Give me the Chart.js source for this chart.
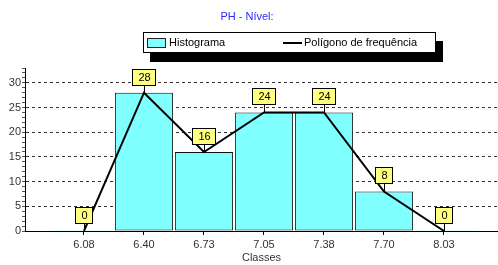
<!DOCTYPE html>
<html>
<head>
<meta charset="utf-8">
<script src="https://cdn.jsdelivr.net/npm/chart.js@4.4.0/dist/chart.umd.min.js"></script>
<style>
    body { margin: 0; background: #fff; }
    canvas { display: block; }
</style>
</head>
<body>
<canvas id="chart" width="498" height="265"></canvas>
<script>
// Chart data
const chartTitle = 'PH - Nível:';
const axisTitle = 'Classes';
const classLabels = ['6.08', '6.40', '6.73', '7.05', '7.38', '7.70', '8.03'];
const frequencies = [0, 28, 16, 24, 24, 8, 0];
const yTickLabels = [0, 5, 10, 15, 20, 25, 30];

const FONT = '"Liberation Sans", Arial, sans-serif';
const CYAN = '#80ffff';

// Title, legend box with shadow and yellow value labels
const decorPlugin = {
    id: 'decor',
    afterDatasetsDraw(chart) {
        const ctx = chart.ctx;
        const meta = chart.getDatasetMeta(1);
        ctx.save();
        ctx.font = '11px ' + FONT;
        ctx.textAlign = 'center';
        ctx.textBaseline = 'middle';
        meta.data.forEach((pt, i) => {
            const text = String(frequencies[i]);
            const w = Math.round(ctx.measureText(text).width) + 11;
            const h = 16;
            const x = Math.round(pt.x - w / 2) + 0.5;
            const bottom = Math.round(pt.y) - 8;
            // connector
            ctx.strokeStyle = '#000';
            ctx.lineWidth = 1;
            ctx.beginPath();
            ctx.moveTo(Math.round(pt.x) + 0.5, bottom);
            ctx.lineTo(Math.round(pt.x) + 0.5, pt.y);
            ctx.stroke();
            ctx.fillStyle = '#ffff80';
            ctx.fillRect(x, bottom - h + 0.5, w, h);
            ctx.strokeRect(x, bottom - h + 0.5, w, h);
            ctx.fillStyle = '#000';
            ctx.fillText(text, Math.round(pt.x) + 0.5, bottom - h / 2 + 1);
        });
        ctx.restore();
    },
    afterDraw(chart) {
        const ctx = chart.ctx;
        ctx.save();
        // title
        ctx.font = '11px ' + FONT;
        ctx.fillStyle = '#2a2aff';
        ctx.textAlign = 'center';
        ctx.textBaseline = 'middle';
        ctx.fillText(chartTitle, 247, 17);

        // legend shadow + box
        ctx.fillStyle = '#000';
        ctx.fillRect(150, 41, 293, 21);
        ctx.fillStyle = '#fff';
        ctx.fillRect(143, 32, 293, 21);
        ctx.strokeStyle = '#000';
        ctx.lineWidth = 1;
        ctx.strokeRect(143.5, 32.5, 292, 20);

        const ds = chart.data.datasets;
        ctx.fillStyle = CYAN;
        ctx.fillRect(147, 38, 19, 10);
        ctx.strokeStyle = '#222';
        ctx.strokeRect(147.5, 38.5, 18, 9);

        ctx.beginPath();
        ctx.lineWidth = 2;
        ctx.strokeStyle = '#000';
        ctx.moveTo(283, 43);
        ctx.lineTo(302, 43);
        ctx.stroke();

        ctx.fillStyle = '#000';
        ctx.textAlign = 'left';
        ctx.fillText(ds[0].label, 169, 43);
        ctx.fillText(ds[1].label, 304, 43);
        ctx.restore();
    }
};

const points = frequencies.map((v, i) => ({ x: i, y: v }));

new Chart(document.getElementById('chart'), {
    data: {
        datasets: [
            {
                type: 'bar',
                label: 'Histograma',
                data: points,
                backgroundColor: CYAN,
                borderColor: ctx => (ctx.raw && ctx.raw.y === 0 ? CYAN : '#111'),
                borderWidth: 1,
                borderSkipped: false,
                minBarLength: 1,
                barPercentage: 0.97,
                categoryPercentage: 1.0,
                order: 2
            },
            {
                type: 'line',
                label: 'Polígono de frequência',
                data: points,
                borderColor: '#000',
                borderWidth: 2,
                pointRadius: 0,
                tension: 0,
                order: 1
            }
        ]
    },
    options: {
        responsive: false,
        animation: false,
        layout: { padding: { top: 68, left: 0, right: 0, bottom: 0 } },
        plugins: {
            legend: { display: false },
            title: { display: false },
            tooltip: { enabled: false }
        },
        scales: {
            x: {
                type: 'linear',
                offset: false,
                min: -0.983,
                max: 6.9,
                afterBuildTicks: scale => {
                    scale.ticks = classLabels.map((l, i) => ({ value: i }));
                },
                afterFit: scale => { scale.height = 34; },
                ticks: {
                    autoSkip: false,
                    maxRotation: 0,
                    padding: 3,
                    color: '#333',
                    font: { family: FONT, size: 11 },
                    callback: v => classLabels[v] ?? ''
                },
                grid: {
                    z: -1,
                    offset: false,
                    drawOnChartArea: false,
                    drawTicks: true,
                    tickLength: 4,
                    tickColor: '#000'
                },
                border: { color: '#000', width: 1 },
                title: {
                    display: true,
                    text: axisTitle,
                    color: '#333',
                    font: { family: FONT, size: 11 },
                    padding: { top: 0, bottom: 0 }
                }
            },
            y: {
                min: 0,
                max: 33,
                afterBuildTicks: scale => {
                    const t = [];
                    for (let v = 0; v <= 33; v++) t.push({ value: v });
                    scale.ticks = t;
                },
                afterFit: scale => { scale.width = 25; },
                ticks: {
                    autoSkip: false,
                    padding: 1,
                    color: '#333',
                    font: { family: FONT, size: 11 },
                    callback: v => (yTickLabels.includes(v) ? String(v) : '')
                },
                grid: {
                    z: -1,
                    color: c => (c.tick && c.tick.value > 0 && yTickLabels.includes(c.tick.value) ? '#333' : 'rgba(0,0,0,0)'),
                    tickColor: '#555',
                    tickLength: 3,
                    tickBorderDash: []
                },
                border: { color: '#000', width: 1, dash: [3, 3] }
            }
        }
    },
    plugins: [decorPlugin]
});
</script>
</body>
</html>
